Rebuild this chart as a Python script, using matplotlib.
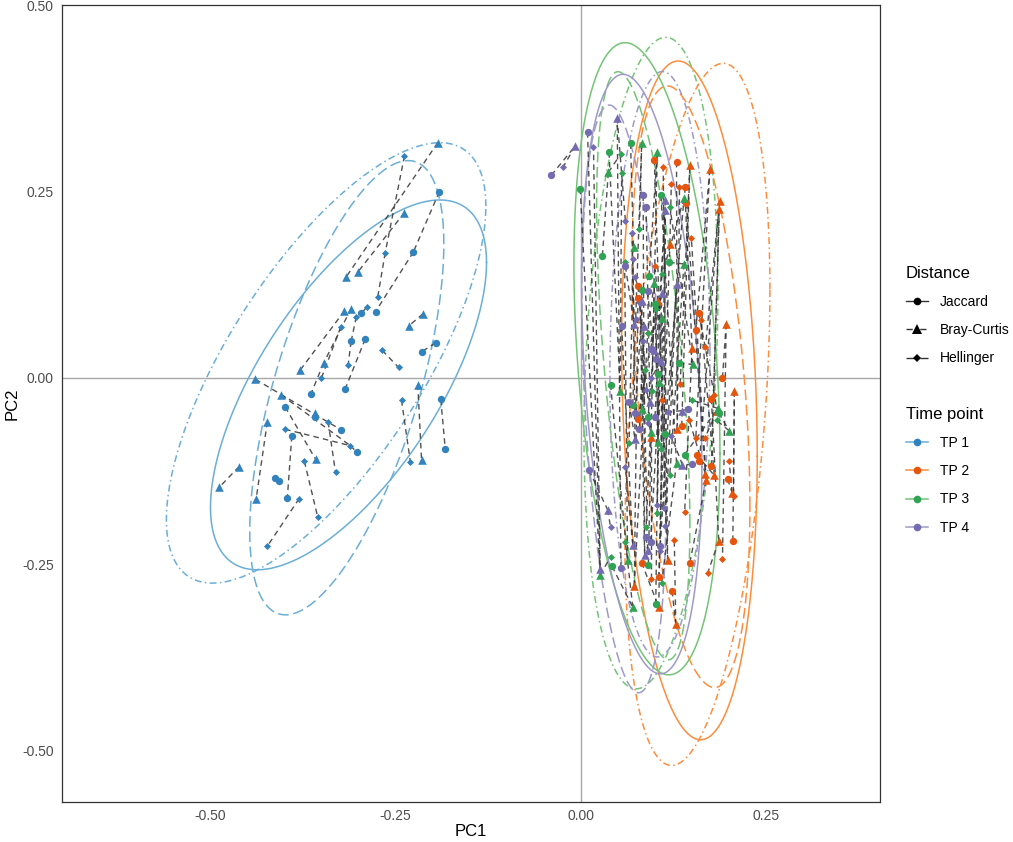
import numpy as np
import matplotlib.pyplot as plt
from matplotlib.lines import Line2D

plt.rcParams['font.family'] = ['Liberation Sans', 'DejaVu Sans']

# values
time_points = ['TP 1', 'TP 2', 'TP 3', 'TP 4']
distances = ['Jaccard', 'Bray-Curtis', 'Hellinger']
x_ticks = [-0.50, -0.25, 0.00, 0.25]
y_ticks = [-0.50, -0.25, 0.00, 0.25, 0.50]

tp1_jac = [(-0.191, 0.250), (-0.226, 0.169), (-0.296, 0.087), (-0.277, 0.089), (-0.310, 0.049),
           (-0.291, 0.052), (-0.196, 0.047), (-0.215, 0.035), (-0.364, -0.021), (-0.318, -0.015),
           (-0.189, -0.029), (-0.399, -0.039), (-0.359, -0.053), (-0.323, -0.070), (-0.390, -0.078),
           (-0.302, -0.100), (-0.183, -0.095), (-0.413, -0.134), (-0.407, -0.139), (-0.396, -0.161)]
tp1_bc = [(-0.193, 0.316), (-0.238, 0.222), (-0.317, 0.135), (-0.301, 0.142), (-0.319, 0.090),
          (-0.310, 0.093), (-0.213, 0.086), (-0.232, 0.070), (-0.379, 0.010), (-0.347, 0.020),
          (-0.439, -0.002), (-0.404, -0.023), (-0.220, -0.009), (-0.359, -0.047), (-0.423, -0.059),
          (-0.358, -0.109), (-0.215, -0.110), (-0.461, -0.119), (-0.488, -0.147), (-0.438, -0.162)]
tp1_hel = [(-0.238, 0.298), (-0.264, 0.168), (-0.274, 0.109), (-0.289, 0.095), (-0.303, 0.082),
           (-0.324, 0.068), (-0.268, 0.037), (-0.246, 0.014), (-0.314, 0.017), (-0.350, 0.000),
           (-0.242, -0.030), (-0.341, -0.059), (-0.399, -0.069), (-0.311, -0.091), (-0.373, -0.112),
           (-0.230, -0.113), (-0.331, -0.127), (-0.380, -0.162), (-0.355, -0.187), (-0.423, -0.226)]
# dashed links: (distance index, point index) -> (distance index, point index)
tp1_links = [(1, 0, 1, 2), (1, 1, 1, 3), (2, 0, 2, 1), (2, 1, 2, 2), (0, 0, 0, 1), (0, 1, 0, 3),
             (1, 4, 1, 8), (1, 5, 1, 9), (1, 9, 0, 8), (2, 5, 2, 9), (0, 4, 2, 8), (0, 5, 0, 9),
             (2, 3, 0, 2), (2, 4, 0, 4), (2, 6, 2, 7), (1, 6, 1, 7), (0, 6, 0, 7),
             (1, 10, 0, 13), (1, 11, 2, 13), (2, 13, 0, 15), (0, 11, 1, 15), (2, 12, 2, 13),
             (0, 14, 0, 19), (1, 14, 1, 19), (2, 14, 2, 18), (2, 11, 2, 16), (2, 10, 2, 15),
             (1, 12, 1, 16), (0, 10, 0, 16), (1, 17, 1, 18), (2, 17, 2, 19), (0, 12, 1, 13)]

tp2_jac = [(0.099, 0.293), (0.129, 0.290), (0.140, 0.256), (0.142, 0.235), (0.077, 0.123),
           (0.077, 0.107), (0.159, 0.087), (0.155, 0.064), (0.191, 0.000), (0.176, -0.028),
           (0.077, -0.055), (0.136, -0.065), (0.156, -0.103), (0.160, -0.111), (0.176, -0.118),
           (0.198, -0.136), (0.205, -0.219), (0.147, -0.248), (0.082, -0.248), (0.105, -0.268),
           (0.123, -0.286)]
tp2_bc = [(0.147, 0.286), (0.174, 0.281), (0.187, 0.237), (0.186, 0.227), (0.120, 0.180),
          (0.104, 0.103), (0.196, 0.073), (0.150, 0.040), (0.207, -0.018), (0.184, -0.044),
          (0.130, -0.068), (0.095, -0.080), (0.168, -0.129), (0.180, -0.131), (0.169, -0.137),
          (0.204, -0.154), (0.186, -0.219), (0.117, -0.245), (0.072, -0.280), (0.105, -0.308),
          (0.128, -0.331)]
tp2_hel = [(0.111, 0.283), (0.122, 0.260), (0.133, 0.256), (0.149, 0.188), (0.100, 0.150),
           (0.162, 0.078), (0.090, 0.060), (0.168, 0.041), (0.134, -0.008), (0.179, -0.023),
           (0.110, -0.030), (0.146, -0.056), (0.155, -0.081), (0.167, -0.081), (0.200, -0.112),
           (0.206, -0.159), (0.140, -0.180), (0.126, -0.218), (0.191, -0.243), (0.171, -0.262),
           (0.095, -0.270)]

tp3_jac = [(0.067, 0.315), (0.038, 0.303), (-0.001, 0.254), (0.108, 0.245), (0.029, 0.164),
           (0.119, 0.155), (0.092, 0.137), (0.082, 0.118), (0.100, 0.099), (0.132, 0.020),
           (0.104, 0.005), (0.040, -0.009), (0.070, -0.036), (0.186, -0.047), (0.090, -0.052),
           (0.113, -0.075), (0.140, -0.103), (0.091, -0.251), (0.042, -0.253), (0.101, -0.304)]
tp3_bc = [(0.082, 0.315), (0.103, 0.303), (0.037, 0.276), (0.139, 0.241), (0.071, 0.176),
          (0.139, 0.153), (0.099, 0.128), (0.110, 0.080), (0.151, 0.018), (0.105, -0.006),
          (0.053, -0.017), (0.185, -0.041), (0.083, -0.042), (0.200, -0.071), (0.094, -0.072),
          (0.104, -0.086), (0.129, -0.114), (0.063, -0.245), (0.026, -0.265), (0.070, -0.308)]
tp3_hel = [(0.054, 0.301), (0.055, 0.275), (0.120, 0.230), (0.079, 0.200), (0.059, 0.155),
           (0.110, 0.140), (0.101, 0.093), (0.090, 0.060), (0.086, 0.011), (0.096, -0.017),
           (0.150, -0.030), (0.183, -0.057), (0.065, -0.088), (0.108, -0.096), (0.120, -0.130),
           (0.103, -0.181), (0.088, -0.200), (0.060, -0.220), (0.040, -0.240), (0.109, -0.275)]

tp4_jac = [(0.009, 0.330), (-0.040, 0.272), (0.084, 0.245), (0.088, 0.230), (0.060, 0.150),
           (0.090, 0.116), (0.055, 0.070), (0.094, 0.039), (0.101, 0.025), (0.065, -0.033),
           (0.145, -0.042), (0.073, -0.047), (0.100, -0.052), (0.079, -0.068), (0.150, -0.116),
           (0.011, -0.124), (0.088, -0.214), (0.094, -0.220), (0.107, -0.226), (0.054, -0.255)]
tp4_bc = [(0.049, 0.349), (-0.008, 0.311), (0.114, 0.239), (0.114, 0.226), (0.129, 0.126),
          (0.109, 0.114), (0.083, 0.103), (0.072, 0.072), (0.085, 0.070), (0.098, 0.038),
          (0.108, 0.022), (0.093, -0.032), (0.136, -0.044), (0.073, -0.082), (0.137, -0.117),
          (0.036, -0.177), (0.070, -0.224), (0.090, -0.231), (0.086, -0.238), (0.026, -0.256)]
tp4_hel = [(0.017, 0.310), (-0.024, 0.283), (0.060, 0.211), (0.069, 0.194), (0.070, 0.160),
           (0.073, 0.135), (0.080, 0.100), (0.074, 0.079), (0.084, 0.050), (0.095, 0.000),
           (0.088, -0.016), (0.117, -0.046), (0.090, -0.060), (0.122, -0.078), (0.060, -0.120),
           (0.103, -0.171), (0.112, -0.175), (0.114, -0.199), (0.040, -0.200), (0.107, -0.233)]

# ellipses: centre x, centre y, sd x, sd y, correlation  (Jaccard, Bray-Curtis, Hellinger)
tp1_ell = [(-0.3135, -0.0094, 0.1862, 0.2483, 0.662),
           (-0.3437, 0.0201, 0.2155, 0.2957, 0.712),
           (-0.3158, -0.0132, 0.1309, 0.3050, 0.632)]
tp2_ell = [(0.1464, -0.0302, 0.0915, 0.4557, -0.165),
           (0.1572, -0.0490, 0.0978, 0.4714, 0.356),
           (0.1484, -0.0119, 0.0796, 0.4039, -0.40)]
tp3_ell = [(0.0891, 0.0257, 0.0985, 0.4244, -0.30),
           (0.0945, 0.0199, 0.0904, 0.4374, 0.22),
           (0.0841, 0.0163, 0.0629, 0.3948, -0.54)]
tp4_ell = [(0.0820, 0.0051, 0.0812, 0.4025, -0.31),
           (0.1066, 0.0183, 0.0675, 0.3930, 0.05),
           (0.0580, -0.0282, 0.0567, 0.3946, -0.35)]


def column_links(jac, bc, hel):
    # in the dense cluster the dashed links run mostly up and down:
    # join the points of the three distances that share the same rank along PC1
    rj = np.argsort([p[0] for p in jac])
    rb = np.argsort([p[0] for p in bc])
    rh = np.argsort([p[0] for p in hel])
    out = []
    for a, b, c in zip(rj, rb, rh):
        out.append((0, a, 1, b))
        out.append((1, b, 2, c))
    return out


dark_cols = ['#3182bd', '#e6550d', '#31a354', '#756bb1']
light_cols = ['#6baed6', '#fd8d3c', '#74c476', '#9e9ac8']
line_styles = ['-', (0, (4.5, 2.2, 1, 2.2)), (0, (7, 3))]
markers = ['o', '^', 'D']
msizes = [28, 38, 13]

groups = [(tp1_jac, tp1_bc, tp1_hel, tp1_ell, tp1_links),
          (tp2_jac, tp2_bc, tp2_hel, tp2_ell, column_links(tp2_jac, tp2_bc, tp2_hel)),
          (tp3_jac, tp3_bc, tp3_hel, tp3_ell, column_links(tp3_jac, tp3_bc, tp3_hel)),
          (tp4_jac, tp4_bc, tp4_hel, tp4_ell, column_links(tp4_jac, tp4_bc, tp4_hel))]

fig = plt.figure(figsize=(10.13, 8.42), dpi=100)
ax = fig.add_axes([62 / 1013, 1 - 802 / 842, (880 - 62) / 1013, (802 - 5) / 842])

ax.axhline(0, color='#a8a8a8', lw=1.0, zorder=0)
ax.axvline(0, color='#a8a8a8', lw=1.0, zorder=0)

t = np.linspace(0, 2 * np.pi, 300)
for g, (jac, bc, hel, ell, links) in enumerate(groups):
    for k, (cx, cy, sx, sy, r) in enumerate(ell):
        S = np.array([[sx ** 2, r * sx * sy], [r * sx * sy, sy ** 2]])
        L = np.linalg.cholesky(S)
        pts = L @ np.vstack([np.cos(t), np.sin(t)])
        ax.plot(cx + pts[0], cy + pts[1], color=light_cols[g], lw=1.1,
                ls=line_styles[k], zorder=1)
    sets = [jac, bc, hel]
    for (a, i, b, j) in links:
        p, q = sets[a][i], sets[b][j]
        ax.plot([p[0], q[0]], [p[1], q[1]], color='#333333', lw=1.0, ls=(0, (4, 3)),
                alpha=0.85, zorder=2)
    for k, pts in enumerate(sets):
        arr = np.array(pts)
        ax.scatter(arr[:, 0], arr[:, 1], s=msizes[k], marker=markers[k],
                   color=dark_cols[g], linewidths=0, zorder=3)

ax.set_xlim(-0.700, 0.4035)
ax.set_ylim(-0.5695, 0.5007)
ax.set_xticks(x_ticks)
ax.set_xticklabels(['%.2f' % v for v in x_ticks])
ax.set_yticks(y_ticks)
ax.set_yticklabels(['%.2f' % v for v in y_ticks])
ax.tick_params(length=0, labelsize=10, labelcolor='#4d4d4d')
ax.tick_params(axis='x', pad=5)
ax.tick_params(axis='y', pad=6)
for sp in ax.spines.values():
    sp.set_color('#333333')
    sp.set_linewidth(0.9)
ax.set_xlabel('PC1', fontsize=12, labelpad=1)
ax.set_ylabel('PC2', fontsize=12, labelpad=2)

# legends
dist_handles = [Line2D([], [], color='#333333', lw=1.0, ls=line_styles[k], marker=markers[k],
                       markersize=[5.5, 6.5, 4][k], markerfacecolor='black', markeredgewidth=0)
                for k in range(3)]
tp_handles = [Line2D([], [], color=light_cols[g], lw=1.1, marker='o', markersize=5.5,
                     markerfacecolor=dark_cols[g], markeredgewidth=0) for g in range(4)]

leg_kw = dict(loc='upper left', frameon=False, fontsize=10, title_fontsize=12,
              alignment='left', borderpad=0, borderaxespad=0, handlelength=1.6,
              handletextpad=0.85, labelspacing=1.02)
fig.legend(dist_handles, distances, title='Distance',
           bbox_to_anchor=(906 / 1013, 1 - 266 / 842), **leg_kw)
fig.legend(tp_handles, time_points, title='Time point',
           bbox_to_anchor=(906 / 1013, 1 - 407 / 842), **leg_kw)

fig.savefig('out.png', dpi=100)
